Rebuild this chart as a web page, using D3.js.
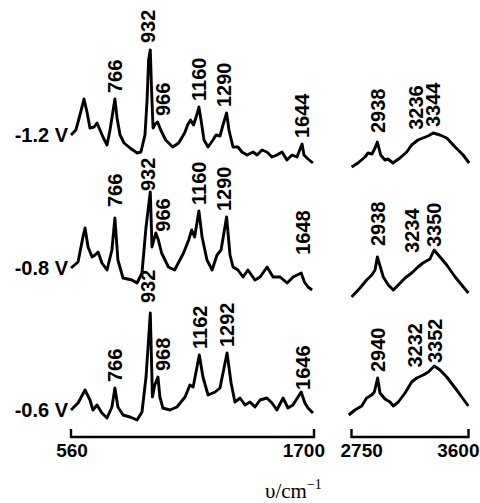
<!DOCTYPE html>
<html>
<head>
<meta charset="utf-8">
<script src="https://cdn.jsdelivr.net/npm/d3@7/dist/d3.min.js"></script>
<style>
  body { margin: 0; background: #fff; }
  text { font-family: "Liberation Sans", Arial, sans-serif; font-weight: bold; fill: #000; }
</style>
</head>
<body>
<svg width="480" height="503"></svg>
<script>
// potentials, top to bottom
var potentials = ['-1.2 V', '-0.8 V', '-0.6 V'];

// [wavenumber cm-1, intensity a.u.]
var low12 = [[560,32],[583,37],[602,52],[621,68],[635,55],[649,39],[668,40],[682,44],[696,37],[710,30],[729,22],[743,37],[766,68],[776,49],[790,32],[809,24],[837,19],[870,14],[888,15],[907,32],[917,67],[924,107],[932,117],[938,77],[945,39],[955,43],[966,45],[981,37],[1004,27],[1037,20],[1065,24],[1093,34],[1107,42],[1121,47],[1135,42],[1150,52],[1160,60],[1170,47],[1184,27],[1203,20],[1226,27],[1240,32],[1259,31],[1273,42],[1290,54],[1301,37],[1320,20],[1343,20],[1362,15],[1386,12],[1414,15],[1433,12],[1456,17],[1479,15],[1503,10],[1526,12],[1550,15],[1573,7],[1597,12],[1620,10],[1644,23],[1653,12],[1672,8],[1695,4]];
var low08 = [[560,29],[593,35],[616,60],[626,69],[640,50],[659,40],[673,42],[687,45],[705,34],[729,27],[752,47],[766,79],[780,37],[804,19],[846,17],[870,14],[893,24],[912,70],[932,105],[940,50],[950,58],[958,64],[970,57],[985,44],[1017,30],[1046,27],[1088,44],[1112,57],[1126,67],[1140,60],[1160,86],[1175,60],[1198,37],[1222,27],[1245,42],[1264,47],[1290,80],[1306,42],[1320,30],[1343,27],[1367,20],[1390,27],[1423,17],[1447,20],[1480,30],[1508,20],[1541,20],[1574,14],[1602,20],[1640,24],[1655,15],[1672,10],[1691,7]];
var low06 = [[560,10],[593,17],[626,30],[649,20],[663,10],[682,15],[705,7],[729,2],[752,13],[766,32],[780,13],[804,5],[837,3],[870,0],[893,8],[912,43],[932,107],[942,23],[953,35],[968,43],[977,23],[991,12],[1024,10],[1057,13],[1095,23],[1118,35],[1133,33],[1162,65],[1179,43],[1203,25],[1236,28],[1259,32],[1292,67],[1311,37],[1329,18],[1353,22],[1376,15],[1400,18],[1423,13],[1447,20],[1479,22],[1503,17],[1526,10],[1555,22],[1578,12],[1601,15],[1640,28],[1657,17],[1672,12],[1695,7]];

var high12 = [[2751,0],[2797,4],[2848,10],[2870,14],[2899,13],[2921,19],[2938,25],[2962,12],[2993,7],[3015,8],[3051,4],[3102,9],[3151,15],[3187,22],[3233,27],[3269,29],[3306,31],[3344,34],[3393,32],[3442,29],[3503,20],[3561,12],[3605,4]];
var high08 = [[2751,0],[2812,9],[2860,17],[2897,22],[2921,27],[2938,40],[2981,20],[3017,12],[3054,7],[3090,12],[3139,19],[3187,24],[3233,30],[3269,34],[3320,38],[3350,47],[3393,40],[3442,32],[3503,20],[3551,12],[3599,4]];
var high06 = [[2730,5],[2775,10],[2824,14],[2860,22],[2897,25],[2916,28],[2940,42],[2957,27],[2993,21],[3030,18],[3054,14],[3090,18],[3139,27],[3187,38],[3224,42],[3272,45],[3308,48],[3352,54],[3393,50],[3442,43],[3503,32],[3551,23],[3599,14]];

// peak labels
var peaks12 = ['766', '932', '966', '1160', '1290', '1644', '2938', '3236', '3344'];
var peaks08 = ['766', '932', '966', '1160', '1290', '1648', '2938', '3234', '3350'];
var peaks06 = ['766', '932', '968', '1162', '1292', '1646', '2940', '3232', '3352'];

var lowTicks = [560, 1700];
var highTicks = [2750, 3600];

var svg = d3.select('svg');

var xLow = d3.scaleLinear().domain(lowTicks).range([71, 314]);
var xHigh = d3.scaleLinear().domain(highTicks).range([351.5, 468.5]);
var y = d3.scaleLinear().domain([0, 440]).range([440, 0]);

var offsets = [273, 143, 20];
var spectra = [[low12, high12], [low08, high08], [low06, high06]];
var peaks = [peaks12, peaks08, peaks06];

// hand placement of a few labels, as in the figure
var gapFix = { '0:932': 7, '0:2938': 9, '0:3236': 10, '1:766': 11, '1:932': 1, '1:1648': 23, '1:2938': 11, '1:3234': 14, '1:3350': 3, '2:932': 10, '2:3232': 10, '2:3352': 3 };
var dxFix = { '932': -2, '966': 5, '968': 5, '1290': -3, '3236': -3, '3234': -6, '3232': -3 };

function valueAt(pts, wn) {
  var i = d3.bisector(function (d) { return d[0]; }).left(pts, wn);
  if (i <= 0) return pts[0][1];
  if (i >= pts.length) return pts[pts.length - 1][1];
  var a = pts[i - 1], b = pts[i];
  return a[1] + (b[1] - a[1]) * (wn - a[0]) / (b[0] - a[0]);
}

spectra.forEach(function (pair, i) {
  var off = offsets[i];
  [[pair[0], xLow], [pair[1], xHigh]].forEach(function (p) {
    var line = d3.line()
      .x(function (d) { return p[1](d[0]); })
      .y(function (d) { return y(d[1] + off); });
    svg.append('path')
      .attr('d', line(p[0]))
      .attr('fill', 'none')
      .attr('stroke', '#000')
      .attr('stroke-width', 2.9)
      .attr('stroke-linejoin', 'round');
  });

  svg.append('text')
    .attr('x', 68)
    .attr('y', y(pair[0][0][1] + off))
    .attr('dy', '0.36em')
    .attr('text-anchor', 'end')
    .style('font-size', '20px')
    .text(potentials[i]);

  peaks[i].forEach(function (lab) {
    var wn = +lab;
    var pts = wn > 2000 ? pair[1] : pair[0];
    var sx = wn > 2000 ? xHigh : xLow;
    var gap = gapFix[i + ':' + lab] != null ? gapFix[i + ':' + lab] : 6;
    var px = sx(wn) + (dxFix[lab] || 0);
    var py = y(valueAt(pts, wn) + off) - gap;
    svg.append('text')
      .attr('transform', 'translate(' + px + ',' + py + ') rotate(-90)')
      .attr('dy', '0.36em')
      .style('font-size', '20px')
      .text(lab);
  });
});

// bracket axes
[[xLow, lowTicks], [xHigh, highTicks]].forEach(function (a) {
  var x0 = a[0](a[1][0]), x1 = a[0](a[1][1]);
  svg.append('path')
    .attr('d', 'M' + x0 + ',429V437H' + x1 + 'V429')
    .attr('fill', 'none')
    .attr('stroke', '#000')
    .attr('stroke-width', 2.4);
});

var tickText = [
  { v: 560, s: xLow, anchor: 'middle', dx: 1 },
  { v: 1700, s: xLow, anchor: 'end', dx: 11 },
  { v: 2750, s: xHigh, anchor: 'start', dx: -11 },
  { v: 3600, s: xHigh, anchor: 'end', dx: 11 }
];
tickText.forEach(function (t) {
  svg.append('text')
    .attr('x', t.s(t.v) + t.dx)
    .attr('y', 457)
    .attr('text-anchor', t.anchor)
    .style('font-size', '19px')
    .text(t.v);
});

var title = svg.append('text')
  .attr('x', 265)
  .attr('y', 498)
  .style('font-family', '"Liberation Serif", "Times New Roman", serif')
  .style('font-weight', 'normal')
  .style('font-size', '21px');
title.append('tspan').text('υ/cm');
title.append('tspan').attr('dy', -9).style('font-size', '14px').text('−1');
</script>
</body>
</html>
